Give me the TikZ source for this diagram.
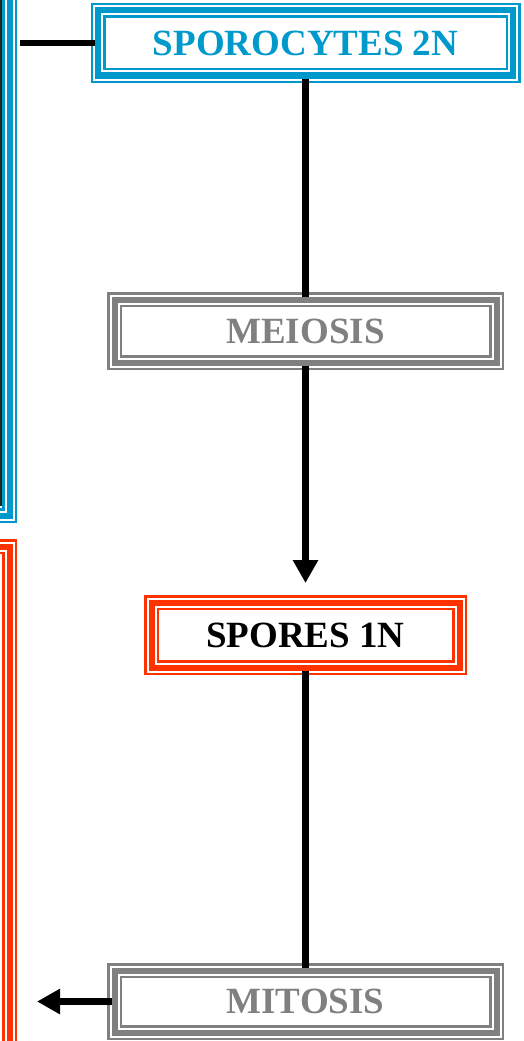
\documentclass[tikz,border=0pt]{standalone}
\usepackage{fontspec}
\setmainfont{Liberation Serif}
\usepackage{xcolor}
\usepackage{tikz}
\usetikzlibrary{arrows.meta, positioning}

\definecolor{sporoblue}{HTML}{0099CC}
\definecolor{sporored}{HTML}{FF3300}
\definecolor{phasegray}{HTML}{808080}
\definecolor{photodark}{HTML}{1E2A1C}

\begin{document}
\begin{tikzpicture}[
    x=1pt, y=-1pt,
    frame/.style={draw=#1, line width=6pt,
        preaction={draw=#1, line width=15pt},
        preaction={draw=white, line width=10pt}},
    stage/.style={frame=#1, inner sep=0pt, font=\fontsize{37}{40}\selectfont\bfseries},
    link/.style={line width=6.5pt, black},
    arrow/.style={link, -{Triangle[length=23pt, width=24pt]}},
]
\useasboundingbox (0,0) rectangle (524,1041);
\clip (0,0) rectangle (524,1041);

% Side panels, mostly off the page
\fill[photodark] (-20,-20) rectangle (2.5,506);
\node[frame=sporoblue, minimum width=309.5pt, minimum height=615.5pt] (sporophyte) at (-145.25, 207.75) {};
\node[frame=sporored, minimum width=309.5pt, minimum height=653.5pt] (gametophyte) at (-145.25, 873.25) {};

% Stages of the cycle
\node[stage=sporoblue, text=sporoblue, minimum width=415pt, minimum height=65pt] (sporocytes) at (305.5, 43) {SPOROCYTES 2N};
\node[stage=phasegray, text=phasegray, minimum width=382pt, minimum height=63pt] (meiosis) at (305.5, 331) {MEIOSIS};
\node[stage=sporored, text=black, minimum width=308pt, minimum height=65pt] (spores) at (305.5, 635) {SPORES 1N};
\node[stage=phasegray, text=phasegray, minimum width=382pt, minimum height=62pt] (mitosis) at (305.5, 1001.5) {MITOSIS};

% Connectors
\draw[link] (sporocytes.west) -- ([xshift=7.5pt]sporocytes.west -| sporophyte.east);
\draw[link] (sporocytes.south) -- (meiosis.north);
\draw[arrow] (meiosis.south) -- ([yshift=16.5pt]spores.north);
\draw[link] (spores.south) -- (mitosis.north);
\draw[arrow] (mitosis.west) -- ([xshift=24.5pt]mitosis.west -| gametophyte.east);

\end{tikzpicture}
\end{document}
